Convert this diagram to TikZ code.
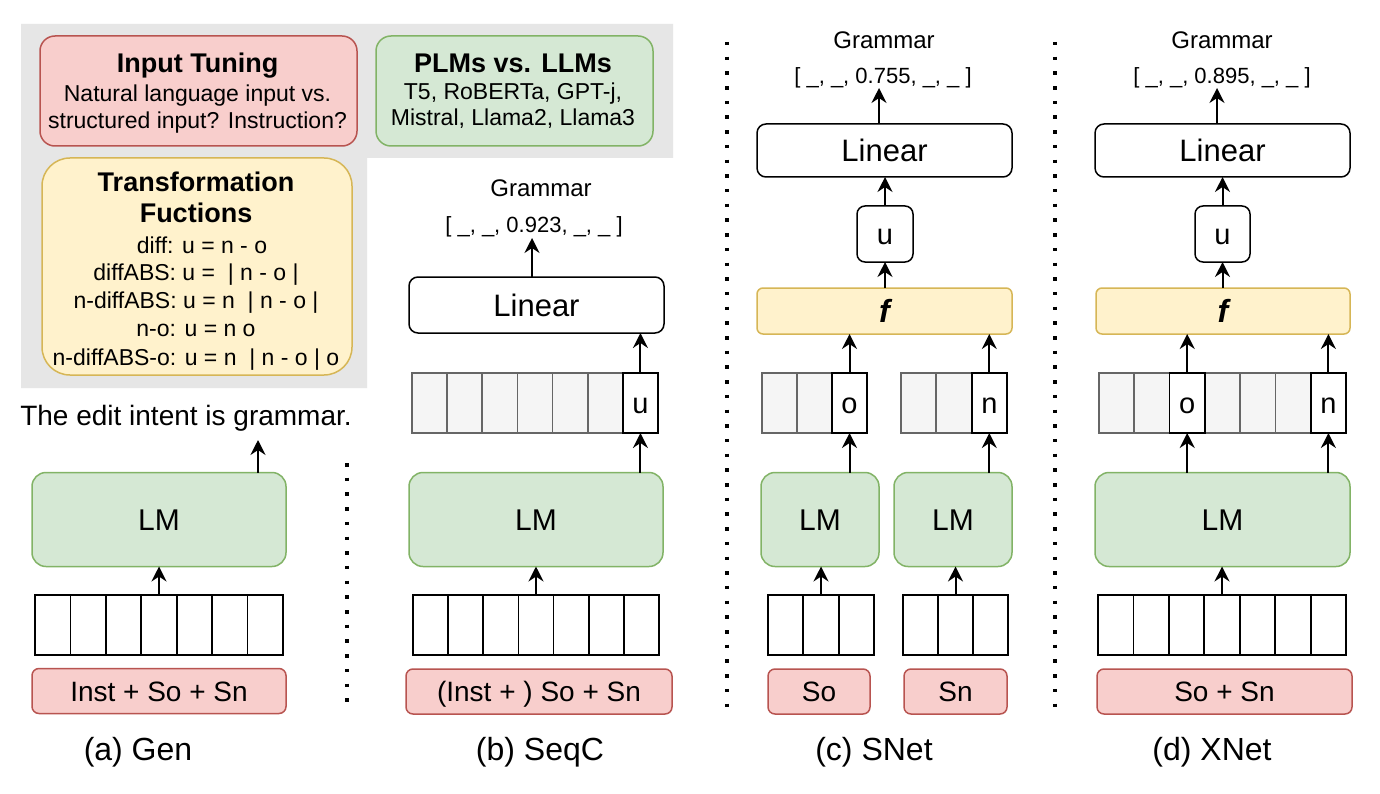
\documentclass[tikz,border=0pt]{standalone}
\usepackage{fontspec}
\setmainfont{Liberation Sans}
\usetikzlibrary{arrows.meta}
\definecolor{bgg}{RGB}{230,230,230}
\definecolor{pfill}{HTML}{F8CECC}
\definecolor{pdraw}{HTML}{B85450}
\definecolor{gfill}{HTML}{D5E8D4}
\definecolor{gdraw}{HTML}{82B366}
\definecolor{yfill}{HTML}{FFF2CC}
\definecolor{ydraw}{HTML}{D6B656}
\definecolor{fgfill}{HTML}{F5F5F5}
\definecolor{fgdraw}{HTML}{666666}
\newcommand{\fsz}[1]{\fontsize{#1}{#1}\selectfont}
\tikzset{
 nb/.style={rectangle, inner sep=0pt, outer sep=0pt},
 lmbox/.style={nb, fill=gfill, draw=gdraw, line width=1.5pt, rounded corners=14pt, font=\fsz{30}, text height=21.5pt, text depth=0pt, minimum height=94pt},
 inbox/.style={nb, fill=pfill, draw=pdraw, line width=1.5pt, rounded corners=7pt, font=\fsz{28}, text height=20pt, text depth=0pt, minimum height=45pt},
 linbox/.style={nb, fill=white, draw=black, line width=1.5pt, rounded corners=9pt, font=\fsz{31}, text height=22pt, text depth=0pt},
 ubox/.style={nb, fill=white, draw=black, line width=1.5pt, rounded corners=8pt, font=\fsz{29}, text height=21pt, text depth=0pt, minimum width=56pt, minimum height=56pt},
 fbox/.style={nb, fill=yfill, draw=ydraw, line width=1.5pt, rounded corners=6pt, font=\fsz{32}\bfseries\itshape, text height=23pt, text depth=0pt, minimum height=46pt},
 tok/.style={nb, draw=black, fill=white, line width=1.8pt, minimum height=60pt},
 feat/.style={nb, draw=fgdraw, fill=fgfill, line width=1.8pt, minimum height=60pt},
 featw/.style={nb, draw=black, fill=white, line width=1.8pt, minimum height=60pt, font=\fsz{29}, text height=21pt, text depth=0pt},
 txt/.style={nb, anchor=base},
 captxt/.style={txt, font=\fsz{32}},
 gram/.style={txt, font=\fsz{24}},
 vectxt/.style={txt, font=\fsz{22}},
 ttl/.style={txt, font=\fsz{27}\bfseries},
 bodytxt/.style={txt, font=\fsz{23}},
 arr/.style={-{Stealth[length=15pt,width=15pt,inset=5pt]}, line width=2pt},
 sepline/.style={line width=3.5pt, dash pattern=on 3.5pt off 11.2pt},
}
\begin{document}
\begin{tikzpicture}[x=1pt,y=-1pt]
\useasboundingbox (0,0) rectangle (1380,794);
\fill[white] (0,0) rectangle (1380,794);
% grey background panel
\fill[bgg] (21,24) -- (673,24) -- (673,158) -- (367,158) -- (367,388) -- (21,388) -- cycle;

% Input Tuning
\node[nb, fill=pfill, draw=pdraw, line width=1.5pt, rounded corners=15pt, minimum width=317pt, minimum height=110pt] (itBox) at (198.5,91) {};
\node[ttl] (it1) at (197.5,73) {Input Tuning};
\node[bodytxt] (it2) at (197.5,102) {Natural language input vs.};
\node[bodytxt] (it3) at (197.5,128.5) {structured input? Instruction?};

% PLMs vs LLMs
\node[nb, fill=gfill, draw=gdraw, line width=1.5pt, rounded corners=15pt, minimum width=277pt, minimum height=110pt] (plBox) at (514.5,91) {};
\node[ttl] (pl1) at (513,72.5) {PLMs vs. LLMs};
\node[bodytxt] (pl2) at (513,100) {T5, RoBERTa, GPT-j,};
\node[bodytxt] (pl3) at (513,126) {Mistral, Llama2, Llama3};

% Transformation functions
\node[nb, fill=yfill, draw=ydraw, line width=1.5pt, rounded corners=28pt, minimum width=310pt, minimum height=217pt] (tfBox) at (197,266.5) {};
\node[ttl] (tf1) at (196,191.5) {Transformation};
\node[ttl] (tf2) at (196,222.5) {Fuctions};
\node[bodytxt] (tf3) at (202,253) {diff: u = n - o};
\node[bodytxt] (tf4) at (196,280.5) {diffABS: u =\ \ | n - o |};
\node[bodytxt] (tf5) at (196,308.5) {n-diffABS: u = n\ \ | n - o |};
\node[bodytxt] (tf6) at (196,336) {n-o: u = n o};
\node[bodytxt] (tf7) at (196,365) {n-diffABS-o: u = n\ \ | n - o | o};

% ---------- (a) Gen ----------
\node[txt, font=\fsz{28}] (outA) at (186,425) {The edit intent is grammar.};
\coordinate (outAtip) at (258,440);
\node[lmbox, minimum width=254pt] (lmA) at (159,519.5) {LM};
\draw[arr] (lmA.north -| outAtip) -- (outAtip);
\foreach \i in {1,...,7} \node[tok, minimum width=35.43pt] (tA\i) at ({35+(\i-0.5)*35.43},625) {};
\draw[arr] (tA4.north) -- (lmA.south -| tA4.north);
\node[inbox, minimum width=254pt] (inA) at (159,691) {Inst + So + Sn};
\node[captxt] (capA) at (138,760) {(a) Gen};

% ---------- (b) SeqC ----------
\node[gram] (grB) at (541,196.5) {Grammar};
\node[vectxt] (vecB) at (534,232.5) {[ \_, \_, 0.923, \_, \_ ]};
\coordinate (vecBtip) at (532,238);
\node[linbox, minimum width=255pt, minimum height=56pt] (linB) at (536.5,305) {Linear};
\draw[arr] (linB.north -| vecBtip) -- (vecBtip);
\foreach \i in {1,...,6} \node[feat, minimum width=35.14pt] (fB\i) at ({412+(\i-0.5)*35.14},403) {};
\node[featw, minimum width=35.14pt] (fB7) at ({412+6.5*35.14},403) {u};
\draw[arr] (fB7.north) -- (linB.south -| fB7.north);
\node[lmbox, minimum width=254pt] (lmB) at (536,519.5) {LM};
\draw[arr] (lmB.north -| fB7.south) -- (fB7.south);
\foreach \i in {1,...,7} \node[tok, minimum width=35.14pt] (tB\i) at ({413+(\i-0.5)*35.14},625) {};
\draw[arr] (tB4.north) -- (lmB.south -| tB4.north);
\node[inbox, minimum width=266pt] (inB) at (539,691.5) {(Inst + ) So + Sn};
\node[captxt] (capB) at (540,760) {(b) SeqC};

% ---------- (c) SNet ----------
\node[gram] (grC) at (884,48.5) {Grammar};
\node[vectxt] (vecC) at (883,84) {[ \_, \_, 0.755, \_, \_ ]};
\coordinate (vecCtip) at (879,88);
\node[linbox, minimum width=255pt, minimum height=53pt] (linC) at (884.5,150.5) {Linear};
\draw[arr] (linC.north -| vecCtip) -- (vecCtip);
\node[ubox] (uC) at (885,234) {u};
\draw[arr] (uC.north) -- (linC.south -| uC.north);
\node[fbox, minimum width=255pt] (fC) at (884.5,311) {f};
\draw[arr] (fC.north -| uC.south) -- (uC.south);
\foreach \i in {1,2} \node[feat, minimum width=35pt] (fCa\i) at ({762+(\i-0.5)*35},403) {};
\node[featw, minimum width=35pt] (oC) at (849.5,403) {o};
\foreach \i in {1,2} \node[feat, minimum width=35.33pt] (fCb\i) at ({901+(\i-0.5)*35.33},403) {};
\node[featw, minimum width=35.33pt] (nC) at (989.3,403) {n};
\draw[arr] (oC.north) -- (fC.south -| oC.north);
\draw[arr] (nC.north) -- (fC.south -| nC.north);
\node[lmbox, minimum width=118pt] (lmC1) at (820,519.5) {LM};
\node[lmbox, minimum width=118pt] (lmC2) at (953,519.5) {LM};
\draw[arr] (lmC1.north -| oC.south) -- (oC.south);
\draw[arr] (lmC2.north -| nC.south) -- (nC.south);
\foreach \i in {1,2,3} \node[tok, minimum width=35.33pt] (tCa\i) at ({768+(\i-0.5)*35.33},625) {};
\foreach \i in {1,2,3} \node[tok, minimum width=35pt] (tCb\i) at ({903+(\i-0.5)*35},625) {};
\draw[arr] (tCa2.north) -- (lmC1.south -| tCa2.north);
\draw[arr] (tCb2.north) -- (lmC2.south -| tCb2.north);
\node[inbox, minimum width=102pt] (inC1) at (819,691.5) {So};
\node[inbox, minimum width=103pt] (inC2) at (955.5,691.5) {Sn};
\node[captxt] (capC) at (874,760) {(c) SNet};

% ---------- (d) XNet ----------
\node[gram] (grD) at (1222,48.5) {Grammar};
\node[vectxt] (vecD) at (1222,84) {[ \_, \_, 0.895, \_, \_ ]};
\coordinate (vecDtip) at (1217,88);
\node[linbox, minimum width=255pt, minimum height=53pt] (linD) at (1222.5,150.5) {Linear};
\draw[arr] (linD.north -| vecDtip) -- (vecDtip);
\node[ubox, minimum width=55pt] (uD) at (1222.5,234) {u};
\draw[arr] (uD.north) -- (linD.south -| uD.north);
\node[fbox, minimum width=254pt] (fD) at (1223,311) {f};
\draw[arr] (fD.north -| uD.south) -- (uD.south);
\foreach \i in {1,2,4,5,6} \node[feat, minimum width=35.29pt] (fD\i) at ({1099+(\i-0.5)*35.29},403) {};
\node[featw, minimum width=35.29pt] (oD) at ({1099+2.5*35.29},403) {o};
\node[featw, minimum width=35.29pt] (nD) at ({1099+6.5*35.29},403) {n};
\draw[arr] (oD.north) -- (fD.south -| oD.north);
\draw[arr] (nD.north) -- (fD.south -| nD.north);
\node[lmbox, minimum width=255pt] (lmD) at (1222.5,519.5) {LM};
\draw[arr] (lmD.north -| oD.south) -- (oD.south);
\draw[arr] (lmD.north -| nD.south) -- (nD.south);
\foreach \i in {1,...,7} \node[tok, minimum width=35.43pt] (tD\i) at ({1098+(\i-0.5)*35.43},625) {};
\draw[arr] (tD4.north) -- (lmD.south -| tD4.north);
\node[inbox, minimum width=255pt] (inD) at (1224.5,691.5) {So + Sn};
\node[captxt] (capD) at (1212,760) {(d) XNet};

% separators
\draw[sepline] (347,463) -- (347,712);
\draw[sepline] (727,42) -- (727,712);
\draw[sepline] (1055,42) -- (1055,712);
\end{tikzpicture}
\end{document}
